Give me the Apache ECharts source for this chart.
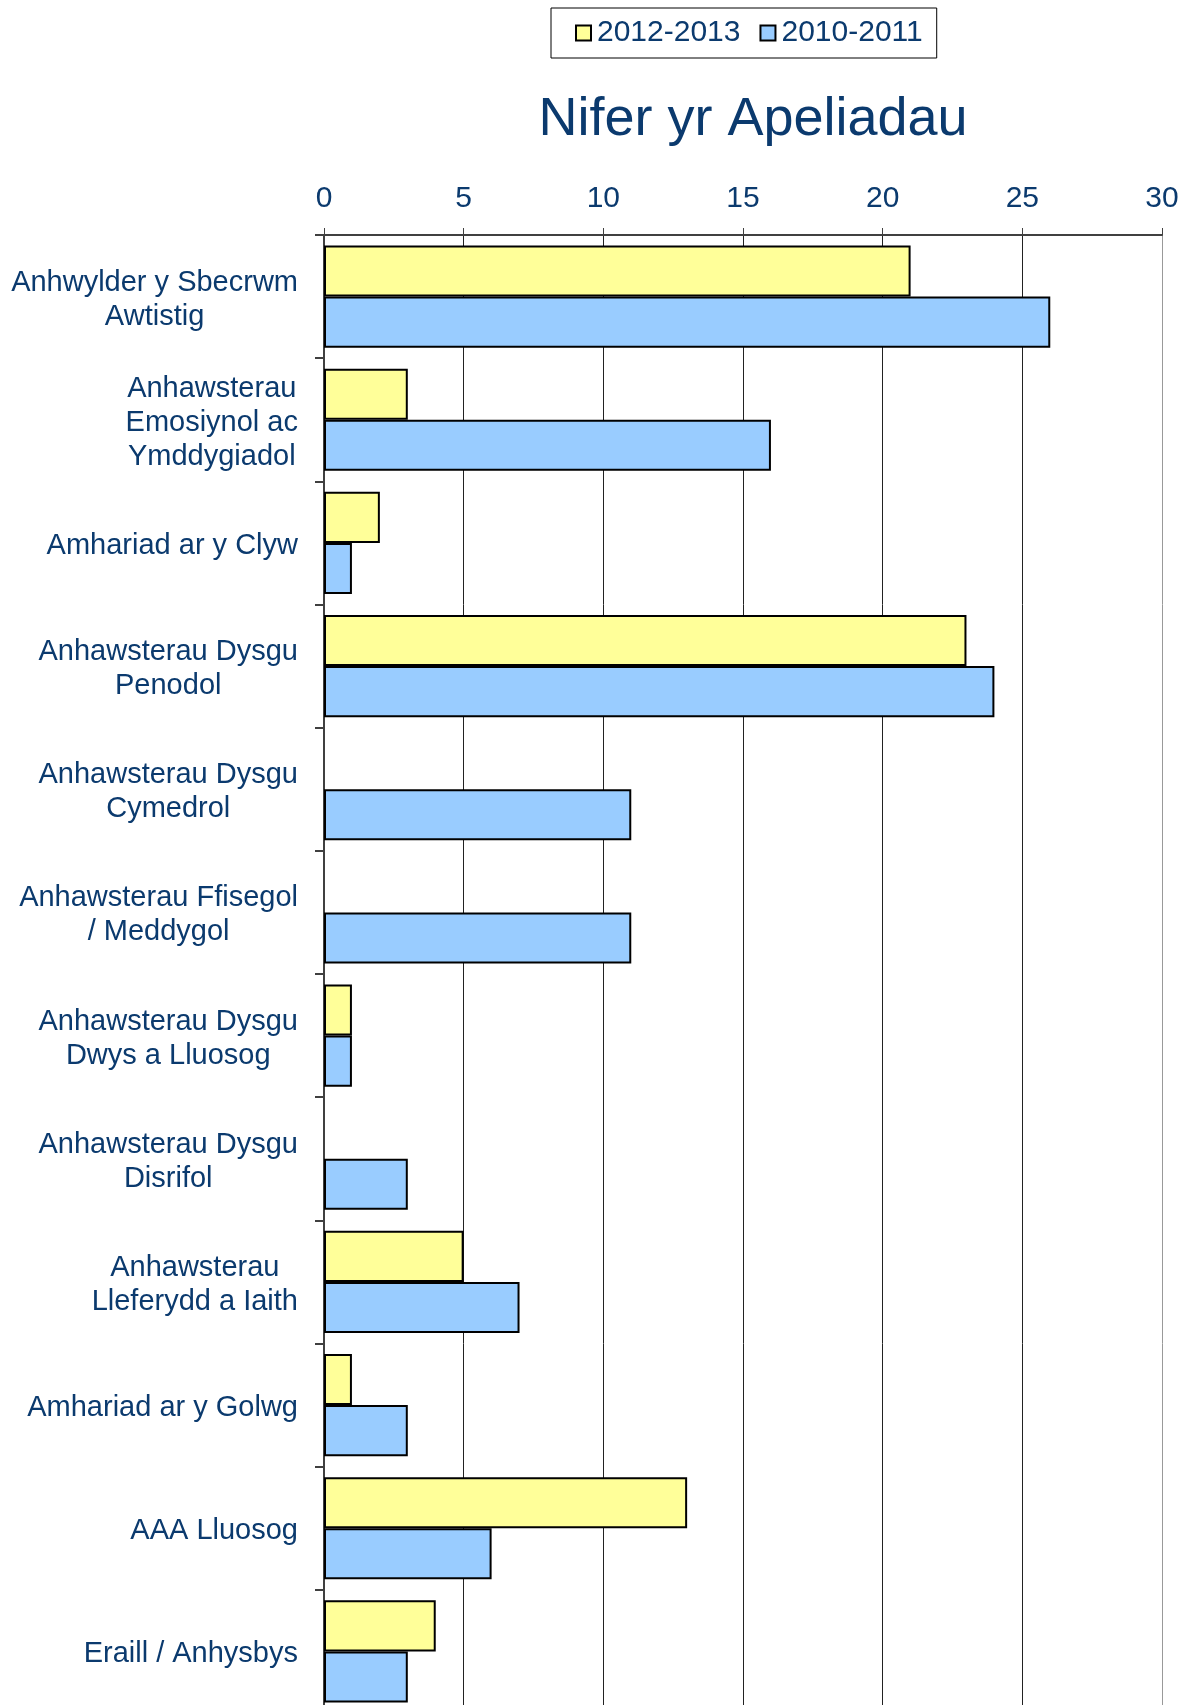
<!DOCTYPE html>
<html>
<head>
<meta charset="utf-8">
<script src="https://cdn.jsdelivr.net/npm/echarts@6/dist/echarts.min.js"></script>
<style>
  html, body { margin: 0; padding: 0; background: #fff; overflow: hidden; }
  /* the plot runs slightly past the bottom edge of the page, as in the original */
  #main { width: 1186px; height: 1713px; }
</style>
</head>
<body>
<div id="main"></div>
<script>
// categories (line breaks as in the original chart)
const categories = [
  "Anhwylder y Sbecrwm\nAwtistig",
  "Anhawsterau\nEmosiynol ac\nYmddygiadol",
  "Amhariad ar y Clyw",
  "Anhawsterau Dysgu\nPenodol",
  "Anhawsterau Dysgu\nCymedrol",
  "Anhawsterau Ffisegol\n/ Meddygol",
  "Anhawsterau Dysgu\nDwys a Lluosog",
  "Anhawsterau Dysgu\nDisrifol",
  "Anhawsterau\nLleferydd a Iaith",
  "Amhariad ar y Golwg",
  "AAA Lluosog",
  "Eraill / Anhysbys"
];
const seriesNames = ["2012-2013", "2010-2011"];
const values2012 = [21, 3, 2, 23, null, null, 1, null, 5, 1, 13, 4];
const values2010 = [26, 16, 1, 24, 11, 11, 1, 3, 7, 3, 6, 3];
const xTicks = [0, 5, 10, 15, 20, 25, 30];

const textColor = "#0b3a6e";
const font = "'Liberation Sans', Arial, sans-serif";

let myChart = echarts.init(document.getElementById("main"));
myChart.setOption({
  animation: false,
  textStyle: { fontFamily: font },
  title: {
    text: "Nifer yr Apeliadau",
    left: 748,
    top: 88,
    textAlign: "center",
    textStyle: { fontSize: 54, fontWeight: "normal", color: textColor, fontFamily: font }
  },
  legend: {
    data: seriesNames,
    left: 551,
    top: 8,
    padding: [10, 14, 10, 24],
    itemGap: 19,
    itemWidth: 15,
    itemHeight: 15,
    icon: "rect",
    borderColor: "#000",
    borderWidth: 1,
    itemStyle: { borderColor: "#000", borderWidth: 2 },
    textStyle: { fontSize: 30, color: textColor, fontFamily: font, padding: [0, 0, 0, 1] }
  },
  grid: {
    left: 324,
    right: 24,
    top: 235,
    bottom: 0
  },
  xAxis: {
    type: "value",
    position: "top",
    min: xTicks[0],
    max: xTicks[xTicks.length - 1],
    interval: 5,
    axisLine: { show: true, lineStyle: { color: "#404040", width: 2 } },
    axisTick: { show: true, length: 7, lineStyle: { color: "#404040", width: 1 } },
    axisLabel: { fontSize: 30, color: textColor, margin: 21, fontFamily: font },
    splitLine: {
      show: true,
      lineStyle: { color: ["#222", "#222", "#222", "#222", "#222", "#222", "#999"], width: 1 }
    }
  },
  yAxis: {
    type: "category",
    inverse: true,
    data: categories,
    axisLine: { show: true, lineStyle: { color: "#404040", width: 2 } },
    axisTick: { show: true, length: 9, lineStyle: { color: "#404040", width: 2 } },
    axisLabel: {
      margin: 26,
      align: "right",
      color: textColor,
      fontSize: 29,
      lineHeight: 34,
      padding: [6, 0, 0, 0],
      fontFamily: font,
      formatter: function (v) {
        return v.split("\n").map(function (l) { return "{c|" + l + "}"; }).join("\n");
      },
      rich: {
        c: { align: "center", fontSize: 29, lineHeight: 34, color: textColor, fontFamily: font }
      }
    }
  },
  series: [
    {
      name: seriesNames[0],
      type: "bar",
      barGap: 0,
      barCategoryGap: "17%",
      itemStyle: { color: "#ffff99", borderColor: "#000", borderWidth: 2 },
      data: values2012
    },
    {
      name: seriesNames[1],
      type: "bar",
      barGap: 0,
      barCategoryGap: "17%",
      itemStyle: { color: "#99ccff", borderColor: "#000", borderWidth: 2 },
      data: values2010
    }
  ]
});
</script>
</body>
</html>
